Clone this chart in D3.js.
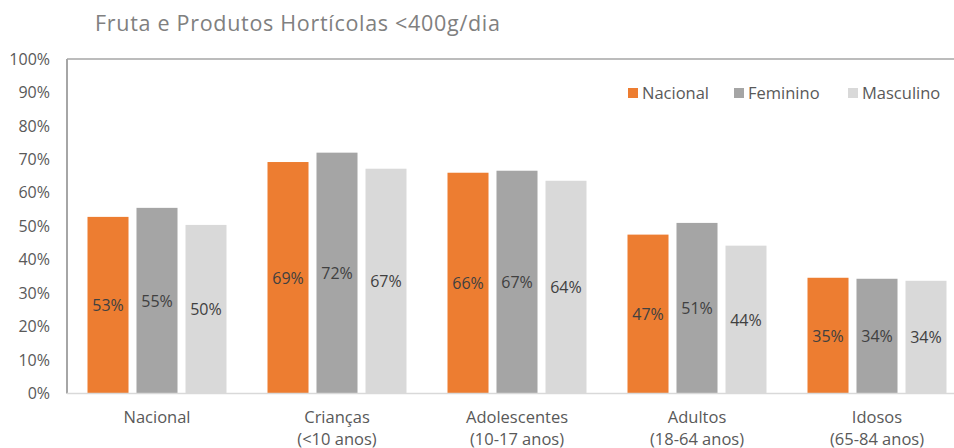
<!DOCTYPE html>
<html><head><meta charset="utf-8">
<script src="https://cdn.jsdelivr.net/npm/d3@7"></script>
<style>body{margin:0;background:#fff}svg{display:block;font-family:"Open Sans",sans-serif}</style>
</head><body><svg id="c" width="954" height="448"></svg>
<script>
const categories = ["Nacional", "Crianças\n(<10 anos)", "Adolescentes\n(10-17 anos)", "Adultos\n(18-64 anos)", "Idosos\n(65-84 anos)"];
const seriesNames = ["Nacional", "Feminino", "Masculino"];
const nacional = [52.8, 69.2, 66.0, 47.5, 34.6];
const feminino = [55.5, 72.0, 66.6, 51.0, 34.3];
const masculino = [50.4, 67.2, 63.6, 44.2, 33.7];
const labelsNacional = ["53%", "69%", "66%", "47%", "35%"];
const labelsFeminino = ["55%", "72%", "67%", "51%", "34%"];
const labelsMasculino = ["50%", "67%", "64%", "44%", "34%"];
const yTicks = [0, 10, 20, 30, 40, 50, 60, 70, 80, 90, 100];
const colors = ["#ED7D31", "#A5A5A5", "#D9D9D9"];

const values = [nacional, feminino, masculino];
const labels = [labelsNacional, labelsFeminino, labelsMasculino];
const svg = d3.select("#c");
const pLeft = 67, pRight = 967, pTop = 59, pBottom = 393.5;

const x0 = d3.scaleBand().domain(categories).range([pLeft, pRight]).padding(0);
const x1 = d3.scaleBand().domain(seriesNames).range([20.5, 159.5]).paddingInner(0.163);
const y = d3.scaleLinear().domain([0, 100]).range([pBottom, pTop]);

// title
svg.append("text").attr("x", 95).attr("y", 31).attr("fill", "#808080")
  .attr("font-size", 21.5).attr("letter-spacing", 0.7).text("Fruta e Produtos Hortícolas <400g/dia");

// frame
svg.append("line").attr("x1", pLeft).attr("x2", 954).attr("y1", pTop).attr("y2", pTop)
  .attr("stroke", "#a6a6a6").attr("stroke-width", 1.5);
svg.append("line").attr("x1", pLeft).attr("x2", pLeft).attr("y1", pTop).attr("y2", pBottom)
  .attr("stroke", "#a6a6a6").attr("stroke-width", 2);

// y axis labels
const yAxis = d3.axisLeft(y).tickValues(yTicks).tickFormat(d => d + "%").tickSize(0).tickPadding(17);
const ya = svg.append("g").attr("transform", `translate(${pLeft},0)`).call(yAxis);
ya.select(".domain").remove();
ya.selectAll("text").attr("font-size", 16).attr("fill", "#595959").attr("font-family", "Open Sans");

// bars
const groups = svg.append("g").selectAll("g").data(categories).join("g")
  .attr("transform", d => `translate(${x0(d)},0)`);
seriesNames.forEach((s, si) => {
  groups.append("rect")
    .attr("x", x1(s)).attr("width", x1.bandwidth())
    .attr("y", (d, i) => y(values[si][i]))
    .attr("height", (d, i) => y(0) - y(values[si][i]))
    .attr("fill", colors[si]);
  groups.append("text")
    .attr("x", x1(s) + x1.bandwidth() / 2)
    .attr("y", (d, i) => (y(values[si][i]) + y(0)) / 2 + 6)
    .attr("text-anchor", "middle").attr("font-size", 16).attr("fill", "#404040")
    .text((d, i) => labels[si][i]);
});

// bottom axis
svg.append("line").attr("x1", pLeft).attr("x2", 954).attr("y1", pBottom).attr("y2", pBottom)
  .attr("stroke", "#d9d9d9").attr("stroke-width", 1.5);

const xAxis = d3.axisBottom(x0).tickSize(0).tickFormat("");
const xa = svg.append("g").attr("transform", `translate(0,${pBottom})`).call(xAxis);
xa.select(".domain").remove();
xa.selectAll(".tick").each(function(d) {
  const t = d3.select(this).append("text").attr("text-anchor", "middle")
    .attr("font-size", 16.5).attr("fill", "#595959").attr("font-family", "Open Sans");
  d.split("\n").forEach((line, k) => {
    t.append("tspan").attr("x", 0).attr("y", 29 + k * 22).text(line);
  });
});

// legend
const legX = [628, 734, 848];
seriesNames.forEach((s, i) => {
  svg.append("rect").attr("x", legX[i]).attr("y", 88).attr("width", 10).attr("height", 10).attr("fill", colors[i]);
  svg.append("text").attr("x", legX[i] + 14).attr("y", 99).attr("font-size", 16.5)
    .attr("fill", "#595959").text(s);
});
</script></body></html>
